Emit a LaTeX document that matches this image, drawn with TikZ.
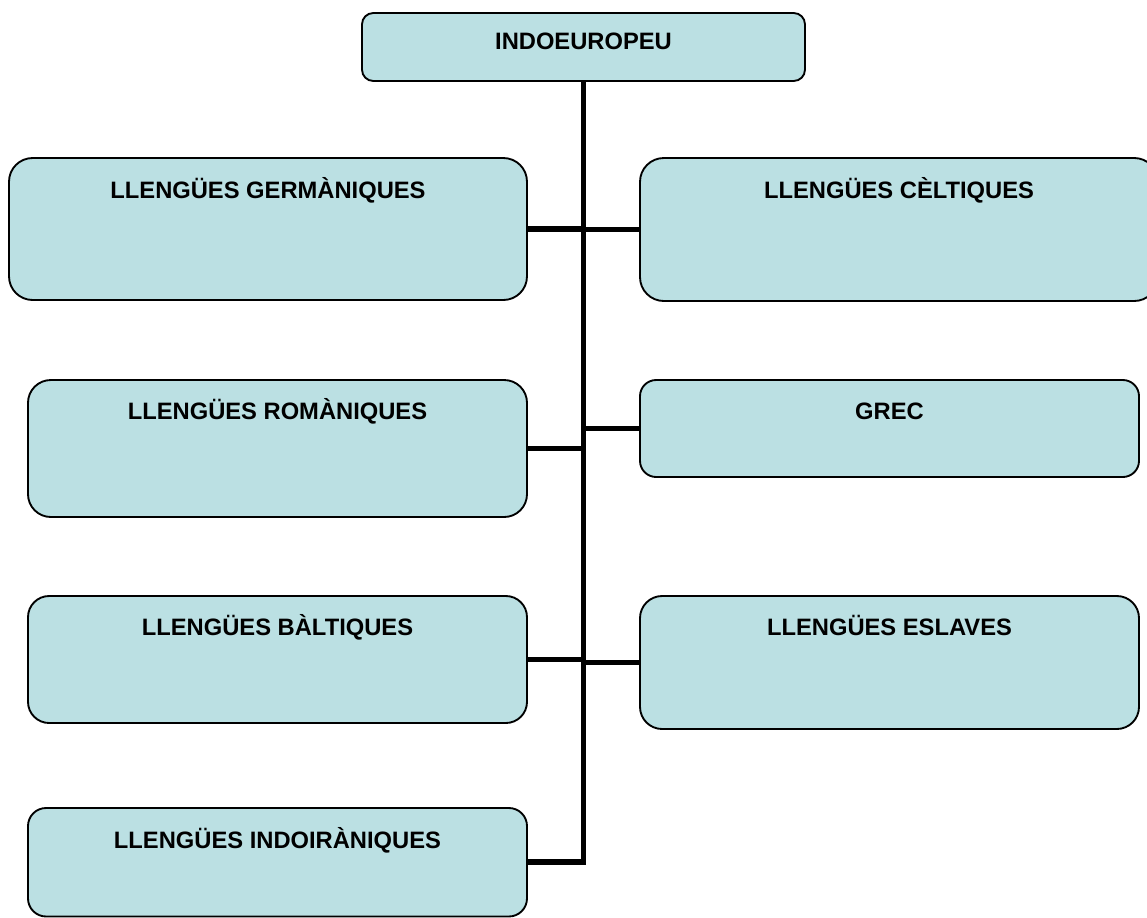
\documentclass[tikz,border=0pt]{standalone}
\usepackage{fontspec}
\setmainfont{Liberation Sans}
\definecolor{boxfill}{RGB}{187,224,227}
\newcommand\mkbox[7]{%
  \pgfmathsetmacro\bxc{(#2+#4)/2}%
  \pgfmathsetmacro\bxw{(#4-#2)*0.75}%
  \pgfmathsetmacro\bxh{#7*0.75}%
  \pgfmathsetmacro\bxd{(#5-#3-#7)*0.75}%
  \pgfmathsetmacro\bxr{(#5-#3)/6*0.75}%
  \node[lbox, minimum width=\bxw pt, text height=\bxh pt, text depth=\bxd pt,
        rounded corners=\bxr pt, anchor=north] (#1) at (\bxc,#3) {#6};}
\begin{document}
\begin{tikzpicture}[x=0.75pt,y=-0.75pt,
  lbox/.style={draw=black, line width=1.4pt, fill=boxfill, inner sep=0pt, outer sep=0pt,
    font=\fontsize{17.8}{20}\selectfont\bfseries, align=center},
  link/.style={draw=black, line width=4.4pt, line join=miter}]
\useasboundingbox (0,0) rectangle (1147,918);
\mkbox{root}{362}{13}{805}{81}{INDOEUROPEU}{36}
\mkbox{germ}{9}{158}{527}{300}{LLENGÜES GERMÀNIQUES}{40}
\mkbox{celt}{640}{158}{1158}{301}{LLENGÜES CÈLTIQUES}{40}
\mkbox{rom}{28}{380}{527}{517}{LLENGÜES ROMÀNIQUES}{39}
\mkbox{grec}{640}{380}{1139}{477}{GREC}{39}
\mkbox{balt}{28}{596}{527}{723}{LLENGÜES BÀLTIQUES}{39}
\mkbox{esla}{640}{596}{1139}{729}{LLENGÜES ESLAVES}{39}
\mkbox{indo}{28}{808}{527}{916.5}{LLENGÜES INDOIRÀNIQUES}{40}
\draw[link] (root.south) |- (indo.east);
\draw[link] (germ.east) -- (germ.east -| root.south);
\draw[link] (celt.west) -- (celt.west -| root.south);
\draw[link] (rom.east) -- (rom.east -| root.south);
\draw[link] (grec.west) -- (grec.west -| root.south);
\draw[link] (balt.east) -- (balt.east -| root.south);
\draw[link] (esla.west) -- (esla.west -| root.south);
\end{tikzpicture}
\end{document}
